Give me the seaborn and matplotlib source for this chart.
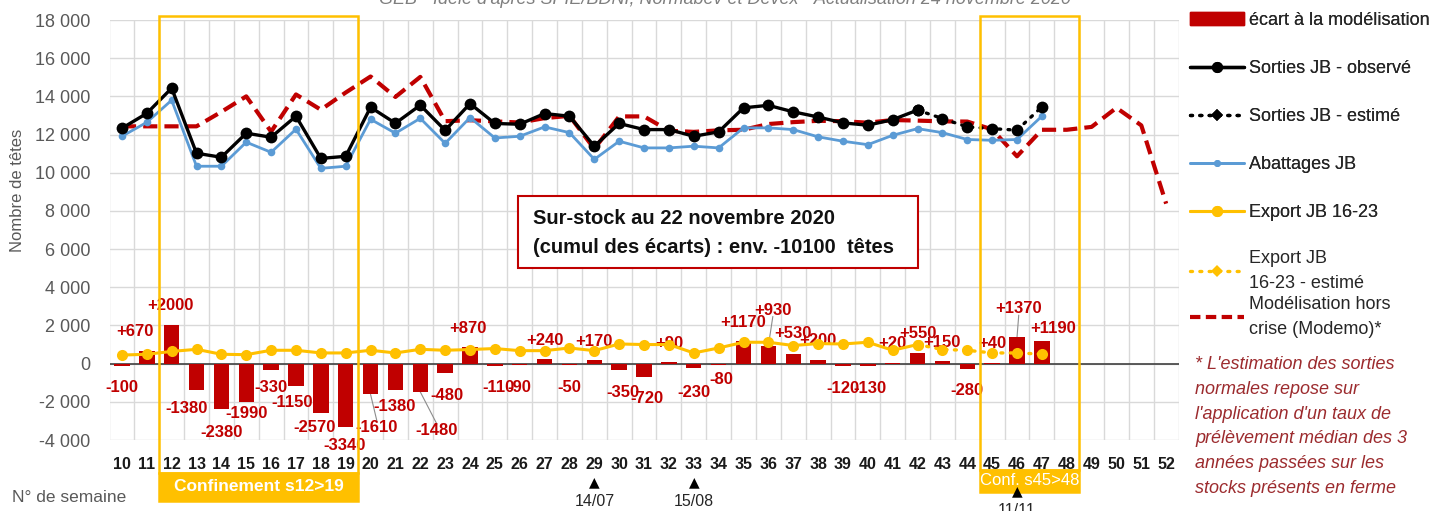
import numpy as np
import matplotlib
matplotlib.use("Agg")
import matplotlib.pyplot as plt
import matplotlib.transforms as mtransforms
from matplotlib.patches import Rectangle
from matplotlib.lines import Line2D
import seaborn as sns

# ---------------- data ----------------
weeks = list(range(10, 53))
weeks_obs = list(range(10, 43))
weeks_est = list(range(42, 48))
weeks_bar = list(range(10, 48))

ecart = [-100, 670, 2000, -1380, -2380, -1990, -330, -1150, -2570, -3340,
         -1610, -1380, -1480, -480, 870, -110, -90, 240, -50, 170,
         -350, -720, 90, -230, -80, 1170, 930, 530, 200, -120,
         -130, 20, 550, 150, -280, 40, 1370, 1190]

sorties_obs = [12330, 13110, 14430, 11020, 10810, 12070, 11860, 12960, 10750, 10860,
               13430, 12590, 13540, 12220, 13620, 12580, 12540, 13100, 12960, 11390,
               12580, 12260, 12260, 11910, 12140, 13400, 13530, 13190, 12920, 12610,
               12490, 12780, 13280]
sorties_est = [13280, 12840, 12400, 12310, 12230, 13450]

abattages = [11910, 12640, 13800, 10340, 10340, 11600, 11070, 12280, 10230, 10340,
             12800, 12070, 12850, 11540, 12890, 11820, 11910, 12400, 12100, 10700,
             11650, 11300, 11300, 11390, 11300, 12350, 12350, 12260, 11880, 11650,
             11470, 11960, 12310, 12100, 11740, 11700, 11740, 12960]

export_obs = [450, 490, 640, 750, 490, 470, 700, 700, 560, 560,
              700, 560, 750, 700, 740, 790, 680, 680, 820, 680,
              1030, 1000, 1000, 560, 820, 1120, 1120, 950, 1050, 1030,
              1120, 700, 1000]
export_est = [1000, 740, 700, 560, 560, 500]

modelisation = [12430, 12430, 12430, 12430, 13190, 14000, 12150, 14100, 13300, 14200,
                15040, 13970, 15020, 12700, 12750, 12690, 12630, 12860, 12980, 11250,
                12950, 12950, 12200, 12140, 12220, 12250, 12550, 12650, 12720, 12700,
                12620, 12760, 12730, 12690, 12680, 12270, 10860, 12250, 12250, 12400,
                13400, 12480, 8380]

y_ticks = list(range(-4000, 18001, 2000))

legend_labels_1 = ["écart à la modélisation", "Sorties JB - observé", "Sorties JB - estimé",
                   "Abattages JB", "Export JB 16-23"]
legend_labels_2 = ["Export JB\n16-23 - estimé", "Modélisation hors\ncrise (Modemo)*"]

title = "GEB - Idele d'après SPIE/BDNI, Normabev et Devex - Actualisation 24 novembre 2020"
box_text = "Sur-stock au 22 novembre 2020\n(cumul des écarts) : env. -10100  têtes"
footnote = ("* L'estimation des sorties\nnormales repose sur\nl'application d'un taux de\n"
            "prélèvement médian des 3\nannées passées sur les\nstocks présents en ferme")
periods = [(12, 19, "Confinement s12>19"), (45, 48, "Conf. s45>48")]
dates = [(29, "14/07"), (33, "15/08"), (46, "11/11")]

# label placement (layout only): week -> (x, y) in data units
label_pos = {10: (10, -1250), 11: (10.52, 1660), 12: (11.97, 3050), 13: (12.61, -2340),
             14: (14.02, -3590), 15: (15.03, -2630), 16: (16, -1240), 17: (16.85, -2020),
             18: (17.76, -3340), 19: (18.97, -4290), 20: (20.26, -3360), 21: (20.98, -2250),
             22: (22.67, -3500), 23: (23.07, -1670), 24: (23.92, 1830), 25: (25.16, -1240),
             26: (25.97, -1240), 27: (27.0, 1220), 28: (28, -1240), 29: (29, 1160),
             30: (30.15, -1490), 31: (31.1, -1830), 32: (32, 1080), 33: (33, -1490),
             34: (34.1, -830), 35: (34.97, 2180), 36: (36.18, 2800), 37: (37, 1580),
             38: (38, 1190), 39: (39, -1300), 40: (40.1, -1300), 41: (41.0, 1040),
             42: (42.0, 1580), 43: (43, 1130), 44: (44, -1400), 45: (45, 1040),
             46: (46.07, 2870), 47: (47.44, 1830)}
leader_weeks = [20, 22, 36, 46]

# ---------------- style ----------------
RED = "#C00000"
BLACK = "#000000"
BLUE = "#5B9BD5"
YELLOW = "#FFC000"
GRID = "#D9D9D9"
GRAY = "#595959"

sns.set_theme(style="white")
plt.rcParams["font.family"] = ["Liberation Sans", "DejaVu Sans"]

W, H = 1433, 511
def fx(px):
    return px / W
def fy(py):
    return 1 - py / H

fig = plt.figure(figsize=(W / 100, H / 100), dpi=100)
fig.patch.set_facecolor("white")
ax = fig.add_axes([fx(109.5), fy(440), fx(1178.6) - fx(109.5), fy(20) - fy(440)])
ax.set_facecolor("white")

# bars
sns.barplot(x=weeks_bar, y=ecart, native_scale=True, color=RED, saturation=1,
            width=0.62, errorbar=None, ax=ax, zorder=3, linewidth=0)

ax.axhline(0, color="#404040", lw=1.2, zorder=2.5)

# lines
sns.lineplot(x=weeks, y=modelisation, color=RED, lw=3.0, linestyle=(0, (3.4, 1.7)),
             ax=ax, zorder=5, sort=False)
sns.lineplot(x=weeks_bar, y=abattages, color=BLUE, lw=2.0, marker="o", markersize=5.5,
             markeredgewidth=0, ax=ax, zorder=6, sort=False)
sns.lineplot(x=weeks_obs, y=sorties_obs, color=BLACK, lw=2.4, marker="o", markersize=8.5,
             markeredgewidth=0, ax=ax, zorder=7, sort=False)
sns.lineplot(x=weeks_est, y=sorties_est, color=BLACK, lw=2.4, linestyle=(0, (0.6, 2.2)),
             dash_capstyle="round", marker="o", markersize=8.5, markeredgewidth=0,
             ax=ax, zorder=7, sort=False)
sns.lineplot(x=weeks_obs, y=export_obs, color=YELLOW, lw=2.2, marker="o", markersize=8,
             markeredgewidth=0, ax=ax, zorder=6, sort=False)
sns.lineplot(x=weeks_est, y=export_est, color=YELLOW, lw=2.4, linestyle=(0, (0.6, 2.2)),
             dash_capstyle="round", marker="o", markersize=8, markeredgewidth=0,
             ax=ax, zorder=6, sort=False)

# axes
ax.set_xlim(9.5, 52.5)
ax.set_ylim(-4000, 18000)
ax.set_xticks(weeks)
ax.set_xticklabels([str(w) for w in weeks], fontsize=11.5, fontweight="bold", color="#1a1a1a")
ax.set_xticks(np.arange(9.5, 53, 1), minor=True)
ax.set_yticks(y_ticks)
ax.set_yticklabels([f"{v:,}".replace(",", " ") for v in y_ticks], fontsize=13, color=GRAY)
ax.tick_params(axis="x", which="both", length=0, pad=12)
ax.tick_params(axis="y", length=0, pad=14)
ax.grid(which="minor", axis="x", color=GRID, lw=1, zorder=0)
ax.grid(which="major", axis="y", color=GRID, lw=1, zorder=0)
ax.grid(which="major", axis="x", visible=False)
ax.set_axisbelow(True)
for s in ax.spines.values():
    s.set_visible(False)
ax.set_xlabel("")
ax.set_ylabel("")
if ax.get_legend():
    ax.get_legend().remove()

# bar labels
for w, v in zip(weeks_bar, ecart):
    lx, ly = label_pos[w]
    ax.text(lx, ly, f"{v:+d}", ha="center", va="center", color=RED, fontsize=12,
            fontweight="bold", zorder=2.8)
    if w in leader_weeks:
        y_end = ly - 330 if v > 0 else ly + 330
        ax.plot([w, lx], [v, y_end], color="#8c8c8c", lw=0.8, zorder=2.7)

# confinement periods
trans = mtransforms.blended_transform_factory(ax.transData, ax.transAxes)
for i, (a, b, lab) in enumerate(periods):
    bottom = -0.0786 if i == 0 else -0.0714
    lbl_h = 0.066 if i == 0 else 0.052
    ax.add_patch(Rectangle((a - 0.5, bottom), b - a + 1, 1.0095 - bottom, transform=trans,
                           fill=False, edgecolor=YELLOW, lw=1.8, clip_on=False, zorder=8))
    ax.add_patch(Rectangle((a - 0.5, bottom - lbl_h), b - a + 1, lbl_h, transform=trans,
                           facecolor=YELLOW, edgecolor=YELLOW, lw=1.8, clip_on=False, zorder=8))
    ax.text((a + b) / 2, bottom - lbl_h / 2, lab, transform=trans, ha="center", va="center",
            color="white", fontsize=12.5 if i == 0 else 12,
            fontweight="bold" if i == 0 else "normal", zorder=9, clip_on=False)

for w, d in dates:
    ty = -0.100 if w != 46 else -0.122
    ax.text(w, ty, "▲", transform=trans, ha="center", va="center", fontsize=10,
            color="black", family=["DejaVu Sans"], zorder=10, clip_on=False)
    ax.text(w, ty - 0.047, d, transform=trans, ha="center", va="center", fontsize=11.5,
            color="#262626", zorder=10, clip_on=False)

# annotation box
fig.add_artist(Rectangle((fx(518), fy(268)), fx(918) - fx(518), (268 - 196) / H,
                         transform=fig.transFigure, facecolor="white", edgecolor=RED,
                         lw=1.5, zorder=20))
fig.text(fx(533), fy(233), box_text, ha="left", va="center", fontsize=14.5,
         fontweight="bold", color="#111111", linespacing=1.62, zorder=21)

# legends
h1 = [Rectangle((0, 0), 1, 1, facecolor=RED, edgecolor=RED),
      Line2D([], [], color=BLACK, lw=2.4, marker="o", ms=8, mew=0),
      Line2D([], [], color=BLACK, lw=2.4, linestyle=(0, (0.6, 2.2)), dash_capstyle="round",
             marker="D", ms=6, mew=0),
      Line2D([], [], color=BLUE, lw=2.0, marker="o", ms=5, mew=0),
      Line2D([], [], color=YELLOW, lw=2.2, marker="o", ms=8, mew=0)]
leg1 = fig.legend(h1, legend_labels_1, loc="upper left", bbox_to_anchor=(fx(1190), fy(12)),
                  frameon=False, fontsize=13, handlelength=3, handletextpad=0.25,
                  labelspacing=1.72, borderpad=0, borderaxespad=0, labelcolor="#262626")
h2 = [Line2D([], [], color=YELLOW, lw=2.4, linestyle=(0, (0.6, 2.2)), dash_capstyle="round",
             marker="D", ms=6, mew=0),
      Line2D([], [], color=RED, lw=3.0, linestyle=(0, (2.5, 1.3)))]
leg2 = fig.legend(h2, legend_labels_2, loc="upper left", bbox_to_anchor=(fx(1190), fy(250)),
                  frameon=False, fontsize=13, handlelength=3, handletextpad=0.25,
                  labelspacing=0.25, borderpad=0, borderaxespad=0, labelcolor="#262626")
for t in leg2.get_texts():
    t.set_linespacing(1.6)
fig.add_artist(leg1)

# texts
fig.text(fx(1195), fy(356), footnote, ha="left", va="top", style="italic", fontsize=13,
         color="#9C2B2E", linespacing=1.6)
fig.text(fx(18), fy(190), "Nombre de têtes", rotation=90, ha="center", va="center",
         fontsize=12, color=GRAY)
fig.text(fx(12), fy(497), "N° de semaine", ha="left", va="center", fontsize=12.5, color=GRAY)
fig.text(fx(725), fy(4), title, ha="center", va="baseline", style="italic", fontsize=13,
         color="#7F7F7F")

fig.savefig("out.png", dpi=100, facecolor="white")
